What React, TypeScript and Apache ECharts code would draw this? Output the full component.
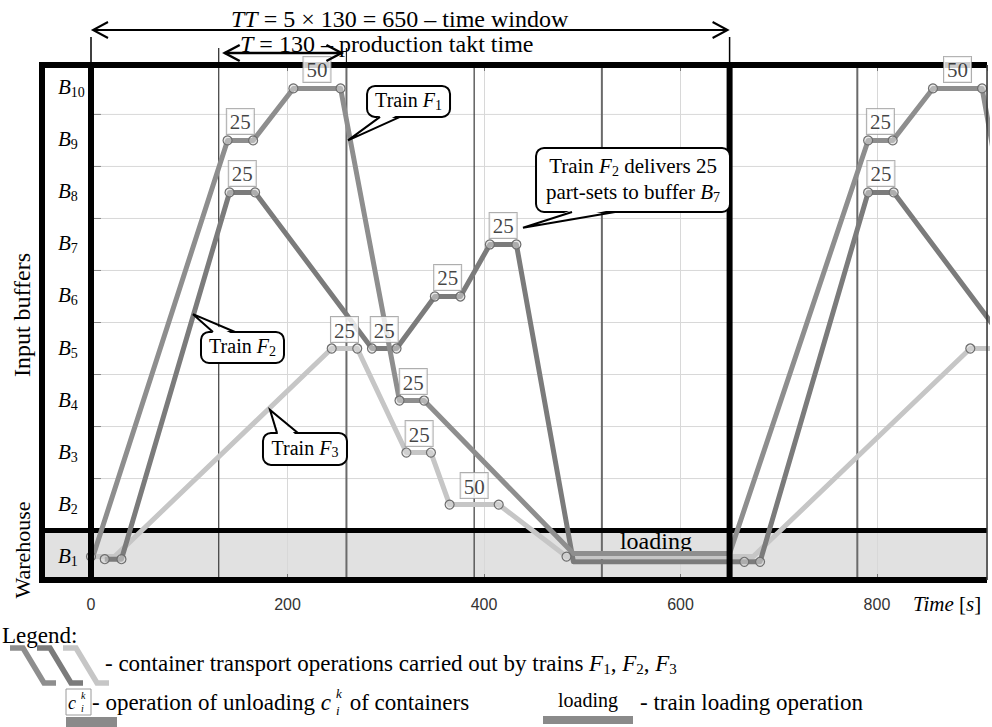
import React, { useEffect, useRef } from "react";
import * as echarts from "echarts";

// ---------- data ----------
// buffer levels B1..B10 on the y scale
const BUFFER_LEVELS = [1, 2, 3, 4, 5, 6, 7, 8, 9, 10];
// train routes: [time s, buffer level, has marker]
const TRAIN_F1 = [
  [3, 1.06, 0], [139, 9, 1], [165, 9, 1], [206, 10, 1], [254, 10, 1],
  [314, 4, 1], [339, 4, 1], [491, 1.06, 0], [650, 1.06, 0],
  [791, 9, 1], [816, 9, 1], [857, 10, 1], [907, 10, 1], [964, 4, 0],
];
const TRAIN_F2 = [
  [14, 0.95, 1], [31, 0.95, 1], [141, 8, 1], [167, 8, 1], [286, 5, 1], [311, 5, 1],
  [350, 6, 1], [376, 6, 1], [406, 7, 1], [433, 7, 1], [491, 0.9, 0], [665, 0.9, 1],
  [681, 0.9, 1], [791, 8, 1], [817, 8, 1], [936, 5, 0],
];
const TRAIN_F3 = [
  [0, 1, 1], [24, 1, 0], [245, 5, 1], [271, 5, 1], [321, 3, 1], [346, 3, 1],
  [365, 2, 1], [415, 2, 1], [484, 1, 1], [674, 1, 0], [895, 5, 1], [930, 5, 0],
];
// unloading operations: [time (middle), buffer level, amount]
const UNLOADS = [
  [152, 9, 25], [230, 10, 50], [328, 4, 25], [154, 8, 25], [298.5, 5, 25],
  [363, 6, 25], [419.5, 7, 25], [258, 5, 25], [334, 3, 25], [390, 2, 50],
  [803.5, 9, 25], [882, 10, 50], [804, 8, 25],
];
const TAKT_LINES = [130, 260, 390, 520, 780];
const WINDOW_LINES = [0, 650];
const TIME_INTERVAL = 200;
const TIME_MAX = 912;
const LEVEL_MIN = 0.55;
const LEVEL_MAX = 10.45;

// callouts: tip & box centre in data coordinates
const CALLOUTS = [
  { lines: [["Train ", "F", "1"]], tip: [261.6, 9.0], box: [323.2, 9.75], w: 83, h: 31, side: "bottom", base: [-28.5, -8.5], fs: 20 },
  { lines: [["Train ", "F", "2"]], tip: [103.8, 5.66], box: [154.2, 5.02], w: 83, h: 31, side: "top", base: [-29.5, -7.5], fs: 20 },
  { lines: [["Train ", "F", "3"]], tip: [182.2, 3.82], box: [217.8, 3.07], w: 84, h: 32, side: "top", base: [-28, -7], fs: 20 },
  {
    lines: [["Train ", "F", "2", " delivers 25"], ["part-sets to buffer ", "B", "7", ""]],
    tip: [439.7, 7.32], box: [551.7, 8.24], w: 194, h: 64, side: "bottom", base: [-61, -18], fs: 21,
  },
];

const SERIF = "'Liberation Serif', 'Times New Roman', serif";
const NARROW = "'Liberation Sans Narrow', 'Arial Narrow', 'Liberation Sans', sans-serif";
const C_F1 = "#8e8e8e";
const C_F2 = "#7b7b7b";
const C_F3 = "#c6c6c6";

function subRich(size: number, sub: number, pad = 2) {
  return {
    n: { fontFamily: SERIF, fontSize: size, padding: [0, 0, pad, 0], verticalAlign: "bottom", color: "#000" },
    i: { fontFamily: SERIF, fontSize: size, fontStyle: "italic", padding: [0, 0, pad, 0], verticalAlign: "bottom", color: "#000" },
    s: { fontFamily: SERIF, fontSize: sub, verticalAlign: "bottom", color: "#000" },
  };
}

function trainSeries(name: string, data: number[][], color: string) {
  return {
    type: "line",
    name,
    data,
    z: 3,
    silent: true,
    clip: true,
    symbol: "circle",
    symbolSize: (v: number[]) => (v[2] ? 9 : 0),
    itemStyle: { color: "rgba(215,215,215,0.55)", borderColor: "#6e6e6e", borderWidth: 1.2 },
    lineStyle: { color, width: 5, join: "round" },
    emphasis: { disabled: true },
  };
}

export default function App() {
  const ref = useRef<HTMLDivElement>(null);
  useEffect(() => {
    const chart = echarts.init(ref.current!, null, { renderer: "svg" });
    const axisCommon = {
      type: "value",
      min: 0,
      max: TIME_MAX,
      interval: TIME_INTERVAL,
      axisLine: { show: false },
      axisTick: { show: true, inside: true, length: 6, lineStyle: { color: "#777", width: 1 } },
    };
    chart.setOption({
      animation: false,
      grid: { left: 91, right: 5, top: 65, bottom: 147 },
      xAxis: [
        {
          ...axisCommon,
          position: "bottom",
          z: 1,
          axisLabel: { show: true, showMaxLabel: false, fontFamily: NARROW, fontSize: 16, color: "#333", margin: 16 },
          splitLine: { show: true, lineStyle: { color: "#d8d8d8", width: 1 } },
        },
        {
          ...axisCommon,
          position: "top",
          z: 1,
          axisLabel: { show: false },
          splitLine: { show: false },
        },
      ],
      yAxis: {
        type: "value",
        min: LEVEL_MIN,
        max: LEVEL_MAX,
        axisLine: { show: false },
        axisTick: { show: false },
        axisLabel: { show: false },
        splitLine: { show: false },
      },
      series: [
        trainSeries("F3", TRAIN_F3, C_F3),
        trainSeries("F2", TRAIN_F2, C_F2),
        trainSeries("F1", TRAIN_F1, C_F1),
        {
          type: "scatter",
          data: UNLOADS,
          symbolSize: 1,
          z: 6,
          silent: true,
          itemStyle: { color: "rgba(0,0,0,0)" },
          label: {
            show: true,
            position: "top",
            distance: 6,
            formatter: (p: any) => String(p.value[2]),
            fontFamily: SERIF,
            fontSize: 21,
            lineHeight: 21,
            color: "#111",
            backgroundColor: "#fff",
            borderColor: "#9a9a9a",
            borderWidth: 1,
            padding: [3, 3, 1, 3],
          },
        },
      ],
    });

    const px = (t: number, v: number) =>
      chart.convertToPixel({ xAxisIndex: 0, yAxisIndex: 0 }, [t, v]) as number[];
    const X = (t: number) => px(t, 5)[0];
    const Y = (v: number) => px(0, v)[1];
    const xL = 42;
    const xR = X(TIME_MAX);
    const yT = Y(LEVEL_MAX);
    const yB = Y(LEVEL_MIN);
    const yW = Y(1.5);

    const els: any[] = [];
    const line = (x1: number, y1: number, x2: number, y2: number, stroke: string, lineWidth: number, z: number) =>
      els.push({ type: "line", silent: true, z, shape: { x1, y1, x2, y2 }, style: { stroke, lineWidth } });
    const text = (x: number, y: number, t: string, style: any, z = 8, extra: any = {}) =>
      els.push({ type: "text", silent: true, z, x, y, ...extra, style: { text: t, fill: "#000", ...style } });

    // warehouse area
    els.push({ type: "rect", silent: true, z: 0, shape: { x: xL, y: yW, width: xR - xL, height: yB - yW }, style: { fill: "#e1e1e1" } });
    // horizontal gridlines between buffers
    BUFFER_LEVELS.filter((b) => b >= 3).forEach((b) => {
      line(X(0), Y(b - 0.5), xR, Y(b - 0.5), "#d8d8d8", 1, 1);
      line(X(0), Y(b - 0.5), X(0) + 10, Y(b - 0.5), "#888", 1, 1);
    });
    // loading text
    text(X(575), yW + 10, "loading", { fontFamily: SERIF, fontSize: 24, align: "center", verticalAlign: "middle" }, 1);
    // takt lines
    TAKT_LINES.forEach((t, i) => {
      const dark = i % 2 === 0 && t < 650;
      line(X(t), yT, X(t), yB, dark ? "#3a3a3a" : "#6a6a6a", dark ? 1.2 : 2, 2);
    });
    line(X(130), 48, X(130), yT, "#222", 1.2, 4);
    line(X(260), 48, X(260), yT, "#222", 1.2, 4);
    // warehouse top border
    line(xL - 3, yW, xR, yW, "#000", 5, 2);
    // frame
    line(xL, yT - 3, xL, yB + 3, "#000", 6, 4);
    line(xL - 3, yT, xR, yT, "#000", 6, 4);
    line(xL - 3, yB, xR, yB, "#000", 6, 4);
    line(xR, yT, xR, yB, "#333", 1.5, 4);
    WINDOW_LINES.forEach((t) => {
      line(X(t), yT, X(t), yB + 3, "#000", 6, 4);
      line(X(t), 37, X(t), yT, "#000", 1.5, 4);
    });

    // arrows on top
    const arrow = (xa: number, xb: number, y: number, lw: number) => {
      line(xa, y, xb, y, "#000", lw, 7);
      els.push({ type: "polyline", silent: true, z: 7, shape: { points: [[xa + 15, y - 8], [xa, y], [xa + 15, y + 8]] }, style: { stroke: "#000", lineWidth: lw, fill: null } });
      els.push({ type: "polyline", silent: true, z: 7, shape: { points: [[xb - 15, y - 8], [xb, y], [xb - 15, y + 8]] }, style: { stroke: "#000", lineWidth: lw, fill: null } });
    };
    arrow(X(WINDOW_LINES[0]) + 2, X(WINDOW_LINES[1]) - 2, 30, 2);
    arrow(X(TAKT_LINES[0]) + 6, X(TAKT_LINES[1]) - 5, 53, 2.5);
    const titleRich = {
      i: { fontFamily: SERIF, fontSize: 24, fontStyle: "italic", color: "#000" },
      n: { fontFamily: SERIF, fontSize: 24, color: "#000" },
    };
    text(231, 19, "{i|TT}{n| = 5 × 130 = 650 – time window}", { rich: titleRich, align: "left", verticalAlign: "middle" }, 8);
    text(240, 44, "{i|T}{n| = 130 – production takt time}", { rich: titleRich, align: "left", verticalAlign: "middle" }, 8);

    // buffer labels
    BUFFER_LEVELS.forEach((b) =>
      text(58, Y(b), `{i|B}{s|${b}}`, { rich: subRich(21, 14), align: "left", verticalAlign: "middle" }, 8)
    );
    text(22, 315, "Input buffers", { fontFamily: SERIF, fontSize: 24, align: "center", verticalAlign: "middle" }, 8, { rotation: Math.PI / 2 });
    text(22, 550, "Warehouse", { fontFamily: SERIF, fontSize: 22, align: "center", verticalAlign: "middle" }, 8, { rotation: Math.PI / 2 });
    text(913, yB + 24, "{i|Time}{n| [}{i|s}{n|]}", {
      rich: {
        i: { fontFamily: SERIF, fontSize: 21, fontStyle: "italic", color: "#000" },
        n: { fontFamily: SERIF, fontSize: 21, color: "#000" },
      },
      align: "left",
      verticalAlign: "middle",
    }, 8);

    // callouts
    CALLOUTS.forEach((c) => {
      const [tx, ty] = px(c.tip[0], c.tip[1]);
      const [cx, cy] = px(c.box[0], c.box[1]);
      const x0 = cx - c.w / 2;
      const y0 = cy - c.h / 2;
      const edgeY = c.side === "bottom" ? y0 + c.h : y0;
      const inward = c.side === "bottom" ? -2.5 : 2.5;
      const b1 = [cx + c.base[0], edgeY];
      const b2 = [cx + c.base[1], edgeY];
      els.push({ type: "rect", silent: true, z: 7, shape: { x: x0, y: y0, width: c.w, height: c.h, r: 8 }, style: { fill: "#fff", stroke: "#000", lineWidth: 2 } });
      els.push({ type: "polygon", silent: true, z: 7, shape: { points: [[b1[0] + 1.5, edgeY + inward], [tx, ty], [b2[0] - 1.5, edgeY + inward]] }, style: { fill: "#fff" } });
      els.push({ type: "polyline", silent: true, z: 7, shape: { points: [b1, [tx, ty], b2] }, style: { stroke: "#000", lineWidth: 2, fill: null } });
      const lh = 26;
      c.lines.forEach((ln, k) => {
        const yy = cy + (k - (c.lines.length - 1) / 2) * lh;
        const [a, v, s, rest] = ln as string[];
        const str = `{n|${a}}{i|${v}}{s|${s}}` + (rest ? `{n|${rest}}` : "");
        text(cx, yy, str, { rich: subRich(c.fs, 14), align: "center", verticalAlign: "middle" }, 8);
      });
    });

    // ---------- legend ----------
    const LG = 23;
    const ctx = document.createElement("canvas").getContext("2d")!;
    const measure = (s: string, font: string) => {
      ctx.font = font;
      return ctx.measureText(s).width;
    };
    const supSub = (x: number, y: number, size: number, gap: number) => {
      text(x, y - gap, "k", { fontFamily: SERIF, fontSize: size, fontStyle: "italic", align: "left", verticalAlign: "middle" }, 9);
      text(x, y + gap, "i", { fontFamily: SERIF, fontSize: size, fontStyle: "italic", align: "left", verticalAlign: "middle" }, 9);
    };
    text(2, 635, "Legend:", { fontFamily: SERIF, fontSize: LG, align: "left", verticalAlign: "middle" }, 8);
    [[10, C_F1], [37, C_F2], [63, C_F3]].forEach(([x, col]) => {
      const x0 = x as number;
      els.push({
        type: "polyline", silent: true, z: 8,
        shape: { points: [[x0, 648], [x0 + 13, 648], [x0 + 34, 683], [x0 + 46, 683]] },
        style: { stroke: col, lineWidth: 5.5, fill: null },
      });
    });
    text(105, 664, "{n|- container transport operations carried out by trains }{i|F}{s|1}{n|, }{i|F}{s|2}{n|, }{i|F}{s|3}", {
      rich: subRich(LG, 15, 2), align: "left", verticalAlign: "middle",
    }, 8);
    // row 2: unloading symbol
    const r2 = 702;
    els.push({ type: "rect", silent: true, z: 8, shape: { x: 66, y: r2 - 13, width: 25, height: 26 }, style: { fill: "#fff", stroke: "#9a9a9a", lineWidth: 1 } });
    text(68, r2 + 1, "c", { fontFamily: SERIF, fontSize: 18, fontStyle: "italic", align: "left", verticalAlign: "middle" }, 9);
    supSub(81, r2, 10, 6.5);
    els.push({ type: "rect", silent: true, z: 8, shape: { x: 66, y: 717, width: 51, height: 10 }, style: { fill: "#8a8a8a" } });
    const p1 = "- operation of unloading ";
    const f = `${LG}px 'Liberation Serif'`;
    const w1 = measure(p1, f);
    text(92, r2, p1, { fontFamily: SERIF, fontSize: LG, align: "left", verticalAlign: "middle" }, 8);
    const xc = 92 + w1;
    text(xc, r2, "c", { fontFamily: SERIF, fontSize: LG, fontStyle: "italic", align: "left", verticalAlign: "middle" }, 8);
    const wc = Math.max(measure("c", `italic ${LG}px 'Liberation Serif'`), LG * 0.62);
    supSub(xc + wc + 1, r2, 13, 8.5);
    text(xc + wc + 9, r2, " of containers", { fontFamily: SERIF, fontSize: LG, align: "left", verticalAlign: "middle" }, 8);
    // loading legend
    text(588, r2 - 2, "loading", { fontFamily: SERIF, fontSize: 20, align: "center", verticalAlign: "middle" }, 8);
    els.push({ type: "rect", silent: true, z: 8, shape: { x: 543, y: 716, width: 90, height: 8 }, style: { fill: "#8a8a8a" } });
    text(640, r2, "- train loading operation", { fontFamily: SERIF, fontSize: LG, align: "left", verticalAlign: "middle" }, 8);

    chart.setOption({ graphic: { elements: els } });
    return () => chart.dispose();
  }, []);
  return <div ref={ref} style={{ position: "absolute", left: 0, top: 0, width: 992, height: 727 }} />;
}
